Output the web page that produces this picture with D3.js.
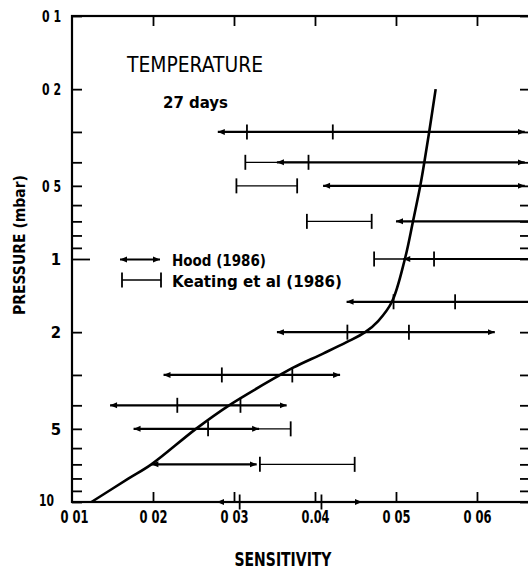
<!DOCTYPE html>
<html>
<head>
<meta charset="utf-8">
<script src="https://cdn.jsdelivr.net/npm/d3@7"></script>
<style>
  body { margin: 0; background: #fff; }
  svg { display: block; font-family: "DejaVu Sans Condensed", "DejaVu Sans", sans-serif; }
</style>
</head>
<body>
<div id="chart"></div>
<script>
// pressure levels (mbar) of the error bars
const rowP = [0.3, 0.4, 0.5, 0.7, 1, 1.5, 2, 3, 4, 5, 7, 10];
// Hood (1986) ranges, arrows
const hoodLo = [0.0280, 0.0353, 0.0410, 0.0500, 0.0509, 0.0439, 0.0353, 0.0213, 0.0147, 0.0176, 0.0198, 0.0279];
const hoodHi = [0.0659, 0.0659, 0.0659, 0.0700, 0.0700, 0.0700, 0.0622, 0.0431, 0.0365, 0.0331, 0.0328, 0.0458];
// Keating et al (1986) ranges, capped bars
const keatLo = [0.0316, 0.0314, 0.0303, 0.0390, 0.0473, 0.0497, 0.0440, 0.0285, 0.0230, 0.0268, 0.0332, 0.0307];
const keatHi = [0.0422, 0.0392, 0.0378, 0.0470, 0.0547, 0.0573, 0.0516, 0.0372, 0.0308, 0.0370, 0.0449, 0.0408];
// model sensitivity profile
const profP = [0.2, 0.3, 0.4, 0.5, 0.7, 1, 1.5, 1.8, 2, 2.2, 2.45, 2.8, 3, 4, 5, 7, 8, 10];
const profS = [0.0549, 0.0541, 0.0535, 0.0530, 0.0521, 0.0511, 0.0495, 0.0478, 0.0462, 0.0439, 0.0410, 0.0373, 0.0357, 0.0294, 0.0253, 0.0198, 0.0170, 0.0124];

const yTicks = [0.1, 0.2, 0.3, 0.4, 0.5, 0.6, 0.7, 0.8, 0.9, 1, 2, 3, 4, 5, 6, 7, 8, 9, 10];
const yLabels = {0.1: '0 1', 0.2: '0 2', 0.5: '0 5', 1: '1', 2: '2', 5: '5', 10: '10'};
const xTicks = [0.01, 0.02, 0.03, 0.04, 0.05, 0.06];
const xLabels = ['0 01', '0 02', '0 03', '0.04', '0 05', '0 06'];

const W = 528, H = 570;
const mLeft = 72, mRight = 528, mTop = 16, mBottom = 502;

const x = d3.scaleLinear().domain([0.01, 0.0663]).range([mLeft, mRight]);
const y = d3.scaleLog().domain([0.1, 10]).range([mTop, mBottom]);

const svg = d3.select('#chart').append('svg')
    .attr('width', W)
    .attr('height', H);

const defs = svg.append('defs');
defs.append('clipPath').attr('id', 'plot')
  .append('rect')
    .attr('x', mLeft).attr('y', mTop - 10)
    .attr('width', mRight - mLeft).attr('height', mBottom - mTop + 20);

defs.append('marker')
    .attr('id', 'arrowEnd')
    .attr('markerUnits', 'userSpaceOnUse')
    .attr('viewBox', '0 -4 8 8')
    .attr('refX', 7).attr('refY', 0)
    .attr('markerWidth', 8).attr('markerHeight', 8)
    .attr('orient', 'auto')
  .append('path')
    .attr('d', 'M0,-3L7,0L0,3Z')
    .attr('fill', '#000');
defs.append('marker')
    .attr('id', 'arrowStart')
    .attr('markerUnits', 'userSpaceOnUse')
    .attr('viewBox', '0 -4 8 8')
    .attr('refX', 0).attr('refY', 0)
    .attr('markerWidth', 8).attr('markerHeight', 8)
    .attr('orient', 'auto')
  .append('path')
    .attr('d', 'M7,-3L0,0L7,3Z')
    .attr('fill', '#000');

// axes
const gLeft = svg.append('g')
    .attr('transform', `translate(${mLeft},0)`)
    .call(d3.axisLeft(y).tickValues(yTicks).tickSize(-10).tickPadding(11)
      .tickFormat(d => yLabels[d] || ''));
gLeft.selectAll('.tick line').filter(d => d === 1).attr('x2', 18);

svg.append('g')
    .attr('transform', `translate(${mRight},0)`)
    .call(d3.axisRight(y).tickValues(yTicks).tickSize(-8).tickFormat(''));

svg.append('g')
    .attr('transform', `translate(0,${mTop})`)
    .call(d3.axisTop(x).tickValues(xTicks.slice(1)).tickSize(-10).tickFormat(''));

const gBottom = svg.append('g')
    .attr('transform', `translate(0,${mBottom})`)
    .call(d3.axisBottom(x).tickValues(xTicks).tickSize(-10).tickPadding(8)
      .tickFormat((d, i) => xLabels[i]));
gBottom.selectAll('.tick').filter(d => d === 0.01).select('line').remove();

svg.selectAll('.domain').remove();
svg.selectAll('.tick line').attr('stroke', '#000').attr('stroke-width', 1.8);

gLeft.selectAll('.tick text')
    .attr('font-size', 16.5).attr('font-weight', 'bold').attr('fill', '#000')
    .attr('font-family', '"DejaVu Sans Condensed", "DejaVu Sans", sans-serif')
    .each(function () {
      const n = this.textContent.length;
      if (n === 3) d3.select(this).attr('textLength', 19).attr('lengthAdjust', 'spacingAndGlyphs');
      if (n === 2) d3.select(this).attr('textLength', 15).attr('lengthAdjust', 'spacingAndGlyphs');
    });
// the bottom "10" sits left of the "0 01" label
gLeft.selectAll('.tick').filter(d => d === 10).select('text').attr('dx', -7).attr('dy', '0.2em');

gBottom.selectAll('.tick text')
    .attr('font-size', 18).attr('font-weight', 'bold').attr('fill', '#000')
    .attr('font-family', '"DejaVu Sans Condensed", "DejaVu Sans", sans-serif')
    .attr('textLength', 28).attr('lengthAdjust', 'spacingAndGlyphs');
gBottom.selectAll('.tick').filter(d => d === 0.01).select('text').attr('dx', 2);

// frame
svg.append('rect')
    .attr('x', mLeft).attr('y', mTop)
    .attr('width', mRight - mLeft + 2).attr('height', mBottom - mTop)
    .attr('fill', 'none')
    .attr('stroke', '#000')
    .attr('stroke-width', 2.2);

const rows = rowP.map((p, i) => ({p, hLo: hoodLo[i], hHi: hoodHi[i], kLo: keatLo[i], kHi: keatHi[i]}));
const gData = svg.append('g').attr('clip-path', 'url(#plot)');

// Keating bars
const gK = gData.append('g').attr('stroke', '#000').attr('stroke-width', 1.3);
gK.selectAll('line.kbar')
  .data(rows)
  .join('line')
    .attr('class', 'kbar')
    .attr('x1', d => x(d.kLo)).attr('x2', d => x(d.kHi))
    .attr('y1', d => y(d.p)).attr('y2', d => y(d.p));
gK.selectAll('line.kcap')
  .data(rows.flatMap(d => [{p: d.p, v: d.kLo}, {p: d.p, v: d.kHi}]))
  .join('line')
    .attr('class', 'kcap')
    .attr('stroke-width', 1.8)
    .attr('x1', d => x(d.v)).attr('x2', d => x(d.v))
    .attr('y1', d => y(d.p) - 7.5).attr('y2', d => y(d.p) + 7.5);

// Hood bars
gData.append('g')
  .selectAll('line')
  .data(rows)
  .join('line')
    .attr('x1', d => x(d.hLo)).attr('x2', d => x(d.hHi))
    .attr('y1', d => y(d.p)).attr('y2', d => y(d.p))
    .attr('stroke', '#000')
    .attr('stroke-width', 2.2)
    .attr('marker-start', 'url(#arrowStart)')
    .attr('marker-end', 'url(#arrowEnd)');

// profile curve
const line = d3.line()
    .x(d => x(d[1]))
    .y(d => y(d[0]))
    .curve(d3.curveCatmullRom.alpha(0.5));
svg.append('path')
    .datum(profP.map((p, i) => [p, profS[i]]))
    .attr('d', line)
    .attr('fill', 'none')
    .attr('stroke', '#000')
    .attr('stroke-width', 2.6);

// annotations
svg.append('text')
    .attr('x', 127).attr('y', 72)
    .attr('font-size', 21)
    .attr('textLength', 136).attr('lengthAdjust', 'spacingAndGlyphs')
    .text('TEMPERATURE');
svg.append('text')
    .attr('x', 163).attr('y', 108)
    .attr('font-size', 16).attr('font-weight', 'bold')
    .attr('textLength', 65).attr('lengthAdjust', 'spacingAndGlyphs')
    .text('27 days');

// legend
const lg = svg.append('g');
lg.append('line')
    .attr('x1', 120).attr('x2', 160).attr('y1', 259.5).attr('y2', 259.5)
    .attr('stroke', '#000').attr('stroke-width', 2)
    .attr('marker-start', 'url(#arrowStart)')
    .attr('marker-end', 'url(#arrowEnd)');
lg.append('text')
    .attr('x', 172).attr('y', 266)
    .attr('font-size', 16).attr('font-weight', 'bold')
    .attr('textLength', 94).attr('lengthAdjust', 'spacingAndGlyphs')
    .text('Hood (1986)');
lg.append('line')
    .attr('x1', 122).attr('x2', 161).attr('y1', 280).attr('y2', 280)
    .attr('stroke', '#000').attr('stroke-width', 1.3);
[122, 161].forEach(cx => lg.append('line')
    .attr('x1', cx).attr('x2', cx).attr('y1', 272.5).attr('y2', 287.5)
    .attr('stroke', '#000').attr('stroke-width', 1.8));
lg.append('text')
    .attr('x', 172).attr('y', 287)
    .attr('font-size', 16).attr('font-weight', 'bold')
    .attr('textLength', 170).attr('lengthAdjust', 'spacingAndGlyphs')
    .text('Keating et al  (1986)');

// axis titles
svg.append('text')
    .attr('x', 283).attr('y', 566)
    .attr('text-anchor', 'middle')
    .attr('font-size', 19).attr('font-weight', 'bold')
    .attr('textLength', 97).attr('lengthAdjust', 'spacingAndGlyphs')
    .text('SENSITIVITY');
svg.append('text')
    .attr('transform', 'translate(25,245) rotate(-90)')
    .attr('text-anchor', 'middle')
    .attr('font-size', 16).attr('font-weight', 'bold')
    .attr('textLength', 140).attr('lengthAdjust', 'spacingAndGlyphs')
    .text('PRESSURE  (mbar)');
</script>
</body>
</html>
